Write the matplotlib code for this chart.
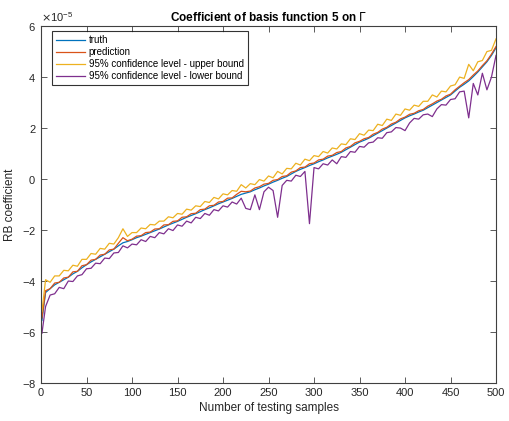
import numpy as np
import matplotlib
matplotlib.use("Agg")
import matplotlib.pyplot as plt
from matplotlib.ticker import ScalarFormatter

plt.rcParams['font.family'] = ['Liberation Sans', 'DejaVu Sans']
plt.rcParams['axes.unicode_minus'] = False
plt.rcParams['mathtext.fontset'] = 'dejavusans'

# sample indices
samples = [1] + list(range(5, 501, 5))

# values in units of 1e-5
truth = [-5.55, -4.45, -4.3, -4.15, -4.05, -3.95, -3.85, -3.72, -3.62, -3.48,
         -3.36, -3.25, -3.15, -3.05, -2.95, -2.85, -2.75, -2.62, -2.5, -2.45,
         -2.38, -2.3, -2.24, -2.17, -2.1, -2.03, -1.96, -1.88, -1.8, -1.73,
         -1.66, -1.58, -1.5, -1.43, -1.36, -1.28, -1.2, -1.13, -1.05, -0.97,
         -0.9, -0.83, -0.76, -0.68, -0.6, -0.55, -0.5, -0.42, -0.35, -0.27,
         -0.2, -0.12, -0.05, 0.03, 0.1, 0.2, 0.3, 0.38, 0.45, 0.53,
         0.6, 0.68, 0.75, 0.83, 0.9, 0.97, 1.05, 1.15, 1.25, 1.35,
         1.45, 1.52, 1.6, 1.7, 1.8, 1.9, 2.0, 2.1, 2.2, 2.3,
         2.4, 2.48, 2.55, 2.63, 2.7, 2.8, 2.9, 3.0, 3.1, 3.2,
         3.3, 3.45, 3.6, 3.72, 3.85, 4.02, 4.2, 4.4, 4.6, 4.85, 5.15]

prediction = [-5.45, -4.38, -4.3, -4.08, -4.05, -3.88, -3.85, -3.64, -3.62, -3.4,
              -3.36, -3.18, -3.15, -2.98, -2.95, -2.78, -2.75, -2.52, -2.3, -2.42,
              -2.36, -2.24, -2.22, -2.1, -2.08, -1.96, -1.95, -1.8, -1.79, -1.66,
              -1.64, -1.5, -1.48, -1.36, -1.34, -1.2, -1.18, -1.05, -1.03, -0.9,
              -0.88, -0.75, -0.74, -0.6, -0.48, -0.5, -0.47, -0.35, -0.3, -0.2,
              -0.17, -0.05, -0.02, 0.1, 0.13, 0.27, 0.32, 0.45, 0.47, 0.6,
              0.63, 0.75, 0.78, 0.9, 0.93, 1.04, 1.08, 1.22, 1.28, 1.42,
              1.48, 1.58, 1.63, 1.76, 1.83, 1.96, 2.03, 2.16, 2.23, 2.36,
              2.43, 2.54, 2.58, 2.68, 2.73, 2.86, 2.95, 3.06, 3.13, 3.26,
              3.33, 3.5, 3.64, 3.78, 3.9, 4.08, 4.24, 4.45, 4.64, 4.9, 5.2]

upper = [-5.2, -3.95, -4.05, -3.8, -3.8, -3.58, -3.6, -3.38, -3.42, -3.15,
         -3.15, -2.92, -2.95, -2.72, -2.75, -2.52, -2.55, -2.3, -1.95, -2.25,
         -2.1, -2.1, -1.92, -1.95, -1.78, -1.8, -1.65, -1.65, -1.48, -1.52,
         -1.35, -1.38, -1.18, -1.22, -1.05, -1.08, -0.88, -0.92, -0.72, -0.78,
         -0.58, -0.62, -0.45, -0.48, -0.22, -0.35, -0.18, -0.22, -0.02, -0.08,
         0.12, 0.05, 0.3, 0.2, 0.42, 0.4, 0.62, 0.55, 0.78, 0.72,
         0.92, 0.88, 1.08, 1.02, 1.22, 1.18, 1.38, 1.35, 1.58, 1.55,
         1.78, 1.72, 1.92, 1.9, 2.15, 2.1, 2.35, 2.3, 2.55, 2.5,
         2.75, 2.7, 2.9, 2.85, 3.05, 3.05, 3.3, 3.22, 3.45, 3.42,
         3.65, 3.7, 4.0, 3.95, 4.5, 4.25, 4.6, 4.65, 5.0, 5.05, 5.5]

lower = [-6.05, -5.0, -4.55, -4.5, -4.25, -4.3, -4.0, -4.02, -3.8, -3.75,
         -3.52, -3.5, -3.3, -3.32, -3.1, -3.12, -2.9, -2.88, -2.62, -2.7,
         -2.55, -2.58, -2.38, -2.45, -2.25, -2.3, -2.1, -2.15, -1.95, -2.02,
         -1.8, -1.85, -1.65, -1.72, -1.5, -1.55, -1.35, -1.42, -1.2, -1.25,
         -1.05, -1.1, -0.9, -0.98, -0.75, -1.15, -1.2, -0.62, -1.2, -0.5,
         -0.32, -0.45, -1.5, -0.25, -0.05, -0.08, 0.15, 0.1, 0.3, -1.75,
         0.45, 0.4, 0.6, 0.55, 0.75, 0.6, 0.88, 0.85, 1.08, 1.05,
         1.28, 1.25, 1.42, 1.45, 1.62, 1.6, 1.82, 1.85, 2.02, 2.0,
         1.9, 2.2, 2.38, 2.35, 2.52, 2.55, 2.45, 2.75, 2.92, 2.9,
         3.12, 3.15, 3.42, 3.45, 2.4, 3.75, 3.3, 4.15, 3.5, 4.0, 4.85]

scale = 1e-5
labels = ['truth', 'prediction', '95% confidence level - upper bound',
          '95% confidence level - lower bound']
colors = ['#0072BD', '#D95319', '#EDB120', '#7E2F8E']

fig = plt.figure(figsize=(5.09, 4.21), dpi=100)
ax = fig.add_axes([0.0806, 0.0903, 0.8939, 0.8477])

for series, lab, col in zip([truth, prediction, upper, lower], labels, colors):
    ax.plot(samples, np.array(series) * scale, color=col, lw=0.9, label=lab)

ax.set_xlim(0, 500)
ax.set_ylim(-8e-5, 6e-5)
ax.set_xticks(np.arange(0, 501, 50))
ax.set_yticks(np.arange(-8, 7, 2) * scale)
fmt = ScalarFormatter(useMathText=True)
fmt.set_powerlimits((0, 0))
ax.yaxis.set_major_formatter(fmt)
ax.yaxis.get_offset_text().set_fontsize(8)
ax.yaxis.get_offset_text().set_color('#404040')

axc = '#404040'
for s in ax.spines.values():
    s.set_color(axc)
    s.set_linewidth(0.8)
ax.tick_params(direction='in', top=True, right=True, length=4, width=0.6,
               colors=axc, labelsize=8, labelcolor='#262626')

ax.set_xlabel('Number of testing samples', fontsize=8.5, color='#262626', labelpad=3)
ax.set_ylabel('RB coefficient', fontsize=8.5, color='#262626', labelpad=4)
ax.set_title(r'Coefficient of basis function 5 on $\Gamma$', fontsize=8.5,
             fontweight='bold', color='black', pad=4)

leg = ax.legend(loc='upper left', bbox_to_anchor=(0.024, 0.985), fontsize=7.0,
                frameon=True, fancybox=False, handlelength=3.0, handletextpad=0.4,
                borderpad=0.4, labelspacing=0.2, borderaxespad=0.0)
leg.get_frame().set_edgecolor('black')
leg.get_frame().set_linewidth(0.8)

fig.savefig('out.png', dpi=100)
